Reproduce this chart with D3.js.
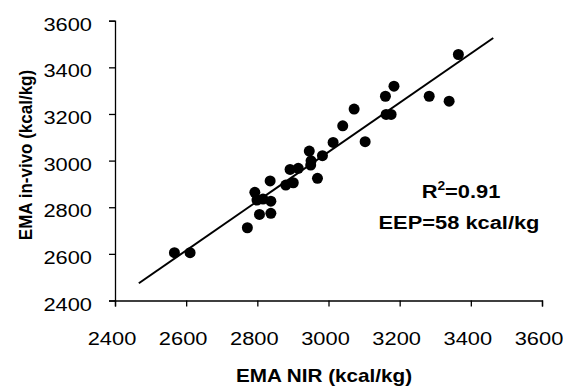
<!DOCTYPE html>
<html>
<head>
<meta charset="utf-8">
<script src="https://cdn.jsdelivr.net/npm/d3@7"></script>
<style>
  body { margin: 0; background: #fff; }
  text { font-family: "Liberation Sans", Arial, sans-serif; fill: #000; }
</style>
</head>
<body>
<div class="chart"></div>
<script>
// EMA NIR (x) vs EMA in-vivo (y)
let nirValues = [2567, 2611, 2772, 2806, 2838, 2838, 2793, 2799, 2816, 2836,
                 2880, 2901, 2892, 2915, 2950, 2969, 2946, 2951, 2983, 3013,
                 3040, 3072, 3103, 3162, 3176, 3160, 3184, 3283, 3339, 3365];
let vivoValues = [2605, 2605, 2712, 2769, 2774, 2826, 2864, 2831, 2835, 2913,
                  2895, 2905, 2962, 2967, 2981, 2924, 3041, 2999, 3021, 3078,
                  3149, 3221, 3081, 3198, 3198, 3276, 3319, 3276, 3255, 3455];
// regression line end points
let fitX = [2467, 3463];
let fitY = [2474, 3526];
let tickValues = [2400, 2600, 2800, 3000, 3200, 3400, 3600];
let statLines = ["R", "=0.91", "EEP=58 kcal/kg"];

let width = 563, height = 387;
let sx = 1.15; // the source text is a bit stretched sideways

let svg = d3.select(".chart").append("svg")
  .attr("width", width)
  .attr("height", height);

let x = d3.scaleLinear().domain([2400, 3600]).range([115, 542]);
let y = d3.scaleLinear().domain([2400, 3600]).range([300.5, 20.7]);

// axes
let xAxis = svg.append("g")
  .attr("transform", "translate(0," + y(2400) + ")")
  .call(d3.axisBottom(x).tickValues(tickValues).tickSize(6).tickFormat(""));
let yAxis = svg.append("g")
  .attr("transform", "translate(" + x(2400) + ",0)")
  .call(d3.axisLeft(y).tickValues(tickValues).tickSize(6).tickFormat(""));

[xAxis, yAxis].forEach(function(a){
  a.select(".domain").attr("stroke", "#000").attr("stroke-width", 1.3);
  a.selectAll(".tick line").attr("stroke", "#000").attr("stroke-width", 1.3);
});

// tick labels
svg.selectAll(".xlab")
  .data(tickValues)
  .enter()
  .append("text")
  .attr("class", "xlab")
  .attr("transform", function(d){ return "translate(" + (x(d) - 3) + ",345) scale(" + sx + ",1)"; })
  .attr("text-anchor", "middle")
  .style("font-size", "19px")
  .text(function(d){ return d; });

svg.selectAll(".ylab")
  .data(tickValues)
  .enter()
  .append("text")
  .attr("class", "ylab")
  .attr("transform", function(d){ return "translate(92," + (y(d) + 10) + ") scale(" + sx + ",1)"; })
  .attr("text-anchor", "end")
  .style("font-size", "19px")
  .text(function(d){ return d; });

// axis titles
svg.append("text")
  .attr("transform", "translate(324,382) scale(" + sx + ",1)")
  .attr("text-anchor", "middle")
  .style("font-size", "18px")
  .style("font-weight", "bold")
  .text("EMA NIR (kcal/kg)");

svg.append("text")
  .attr("transform", "translate(32,155) rotate(-90) scale(1,1.1)")
  .attr("text-anchor", "middle")
  .style("font-size", "17px")
  .style("font-weight", "bold")
  .text("EMA in-vivo (kcal/kg)");

// regression line
let fitData = fitX.map(function(d, i){ return [d, fitY[i]]; });
svg.append("path")
  .datum(fitData)
  .attr("fill", "none")
  .attr("stroke", "#000")
  .attr("stroke-width", 2)
  .attr("d", d3.line().x(function(d){ return x(d[0]); }).y(function(d){ return y(d[1]); }));

// points
svg.selectAll(".dot")
  .data(nirValues.map(function(d, i){ return [d, vivoValues[i]]; }))
  .enter()
  .append("circle")
  .attr("class", "dot")
  .attr("cx", function(d){ return x(d[0]); })
  .attr("cy", function(d){ return y(d[1]); })
  .attr("r", 5.5)
  .attr("fill", "#000");

// stats text
let r2 = svg.append("text")
  .attr("transform", "translate(461,198) scale(" + sx + ",1)")
  .attr("text-anchor", "middle")
  .style("font-size", "19px")
  .style("font-weight", "bold");
r2.append("tspan").text(statLines[0]);
r2.append("tspan").attr("dy", -8).style("font-size", "12px").text("2");
r2.append("tspan").attr("dy", 8).text(statLines[1]);

svg.append("text")
  .attr("transform", "translate(459,229) scale(" + sx + ",1)")
  .attr("text-anchor", "middle")
  .style("font-size", "19px")
  .style("font-weight", "bold")
  .text(statLines[2]);
</script>
</body>
</html>
